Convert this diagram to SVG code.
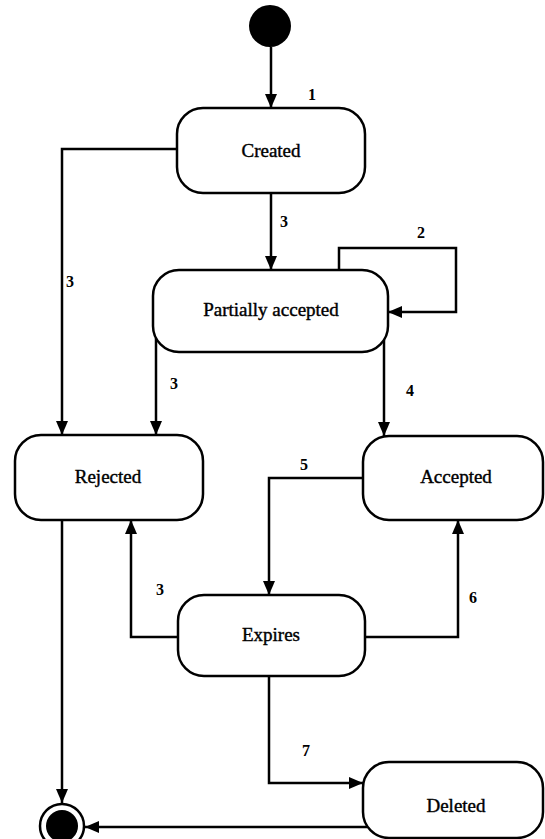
<svg xmlns="http://www.w3.org/2000/svg" width="545" height="839" viewBox="0 0 545 839">
<style>
.box{fill:#fff;stroke:#000;stroke-width:2.5}
.lbl{font-family:'Liberation Serif','Times New Roman','DejaVu Serif',serif;font-size:19px;text-anchor:middle;fill:#000;stroke:#000;stroke-width:0.4}
.num{font-family:'Liberation Serif','Times New Roman','DejaVu Serif',serif;font-size:16px;font-weight:bold;text-anchor:middle;fill:#000}
.c{fill:none;stroke:#000;stroke-width:2.5;marker-end:url(#ah)}
</style>
<defs>
<marker id="ah" viewBox="0 0 14 12" refX="14" refY="6" markerWidth="14" markerHeight="12" markerUnits="userSpaceOnUse" orient="auto">
<path d="M0,0 L14,6 L0,12 z" fill="#000"/>
</marker>
</defs>
<rect width="545" height="839" fill="#fff"/>
<g id="connectors">
<path class="c" d="M271,47 V108"/>
<path class="c" d="M271,193 V270"/>
<path class="c" d="M177,149 H62 V435"/>
<path class="c" d="M156,338 V435"/>
<path class="c" d="M384,340 V436"/>
<path class="c" d="M339,270 V248 H456 V312 H388"/>
<path class="c" d="M363,478 H269 V595"/>
<path class="c" d="M178,637 H131 V520"/>
<path class="c" d="M365,637 H458 V520"/>
<path class="c" d="M269,676 V783 H363"/>
<path class="c" d="M62,520 V803"/>
<path class="c" d="M367,827 H85"/>
<text class="num" x="312" y="100">1</text>
<text class="num" x="284" y="227">3</text>
<text class="num" x="70" y="287">3</text>
<text class="num" x="421" y="238">2</text>
<text class="num" x="174" y="389">3</text>
<text class="num" x="410" y="396">4</text>
<text class="num" x="304" y="470">5</text>
<text class="num" x="160" y="595">3</text>
<text class="num" x="473" y="603">6</text>
<text class="num" x="306" y="756">7</text>
</g>
<g id="start"><circle cx="270" cy="26" r="21" fill="#000"/></g>
<g id="created"><rect class="box" x="177" y="108" width="188" height="85" rx="26"/><text class="lbl" x="271" y="157">Created</text></g>
<g id="partially"><rect class="box" x="153" y="270" width="235" height="82" rx="26"/><text class="lbl" x="271" y="316">Partially accepted</text></g>
<g id="rejected"><rect class="box" x="15" y="435" width="188" height="85" rx="26"/><text class="lbl" x="108" y="483">Rejected</text></g>
<g id="accepted"><rect class="box" x="363" y="436" width="180" height="84" rx="26"/><text class="lbl" x="456" y="483">Accepted</text></g>
<g id="expires"><rect class="box" x="178" y="595" width="187" height="81" rx="26"/><text class="lbl" x="271" y="641">Expires</text></g>
<g id="deleted"><rect class="box" x="363" y="762" width="180" height="76" rx="26"/><text class="lbl" x="456" y="812">Deleted</text></g>
<g id="final"><circle cx="62" cy="826" r="22" fill="#fff" stroke="#000" stroke-width="2.5"/><circle cx="62" cy="826" r="16" fill="#000"/></g>
</svg>
